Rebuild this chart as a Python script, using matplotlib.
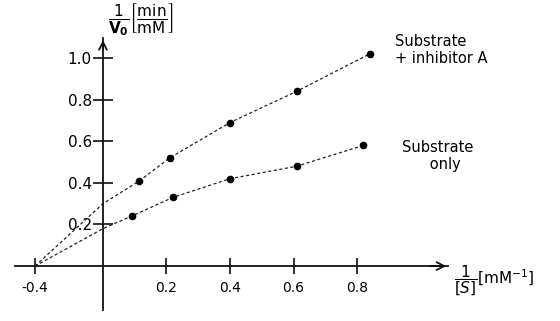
import numpy as np
import matplotlib
matplotlib.use('Agg')
import matplotlib.pyplot as plt

# values (1/[S] in mM^-1, 1/V0 in min/mM)
x_inhib = [0.115, 0.21, 0.40, 0.61, 0.84]
y_inhib = [0.41, 0.52, 0.69, 0.84, 1.02]
x_sub = [0.09, 0.22, 0.40, 0.61, 0.82]
y_sub = [0.24, 0.33, 0.42, 0.48, 0.58]
x_intercept = -0.4
yint_inhib = 0.30
yint_sub = 0.18

xticks = [-0.4, 0.2, 0.4, 0.6, 0.8]
xtick_labels = ['-0.4', '0.2', '0.4', '0.6', '0.8']
yticks = [0.2, 0.4, 0.6, 0.8, 1.0]
ytick_labels = ['0.2', '0.4', '0.6', '0.8', '1.0']

# the sketch squeezes the negative side of the x axis
NEG = 0.535


def fwd(x):
    x = np.asarray(x, dtype=float)
    return np.where(x < 0, x * NEG, x)


def inv(x):
    x = np.asarray(x, dtype=float)
    return np.where(x < 0, x / NEG, x)


fig = plt.figure(figsize=(5.6, 3.21), dpi=100)
ax = fig.add_axes([0, 0, 1, 1])
ax.set_xscale('function', functions=(fwd, inv))
ax.set_xlim(-0.606, 1.439)
ax.set_ylim(-0.264, 1.279)

# dashed lines from the common x-intercept through the points
ax.plot([x_intercept, 0] + x_inhib, [0, yint_inhib] + y_inhib,
        color='#222222', lw=0.9, ls=(0, (2.5, 2)), zorder=2)
ax.plot([x_intercept, 0] + x_sub, [0, yint_sub] + y_sub,
        color='#222222', lw=0.9, ls=(0, (2.5, 2)), zorder=2)
ax.plot(x_inhib, y_inhib, 'o', color='black', ms=4.5, zorder=3)
ax.plot(x_sub, y_sub, 'o', color='black', ms=4.5, zorder=3)

# axes through the origin
for side in ['top', 'right']:
    ax.spines[side].set_visible(False)
ax.spines['left'].set_position('zero')
ax.spines['bottom'].set_position('zero')
ax.spines['left'].set_bounds(-0.21, 1.096)
ax.spines['bottom'].set_bounds(-0.518, 1.085)
for side in ['left', 'bottom']:
    ax.spines[side].set_linewidth(1.3)
    ax.spines[side].set_color('#111111')

ax.annotate('', xy=(1.09, 0), xytext=(1.02, 0),
            arrowprops=dict(arrowstyle='->', lw=1.3, color='#111111',
                            mutation_scale=14))
ax.annotate('', xy=(0, 1.10), xytext=(0, 1.03),
            arrowprops=dict(arrowstyle='->', lw=1.3, color='#111111',
                            mutation_scale=14))

ax.set_xticks(xticks)
ax.set_xticklabels(xtick_labels)
ax.set_yticks(yticks)
ax.set_yticklabels(ytick_labels)
ax.xaxis.set_minor_locator(plt.NullLocator())
ax.tick_params(axis='x', direction='inout', length=11, width=1.2,
               labelsize=10, pad=5, color='#111111')
ax.tick_params(axis='y', direction='inout', length=14, width=1.2,
               labelsize=11, pad=1, color='#111111')

ax.text(0.12, 1.185,
        r'$\dfrac{1}{\mathbf{V_0}}\left[\dfrac{\mathrm{min}}{\mathrm{mM}}\right]$',
        fontsize=11, ha='center', va='center')
ax.text(1.105, -0.07,
        r'$\dfrac{1}{[S]}\left[\mathrm{mM}^{-1}\right]$',
        fontsize=11, ha='left', va='center')

ax.text(0.92, 1.04, 'Substrate\n+ inhibitor A', fontsize=10.5,
        ha='left', va='center', linespacing=1.2)
ax.text(0.94, 0.53, 'Substrate\n      only', fontsize=10.5,
        ha='left', va='center', linespacing=1.2)

fig.savefig('out.png', dpi=100)
